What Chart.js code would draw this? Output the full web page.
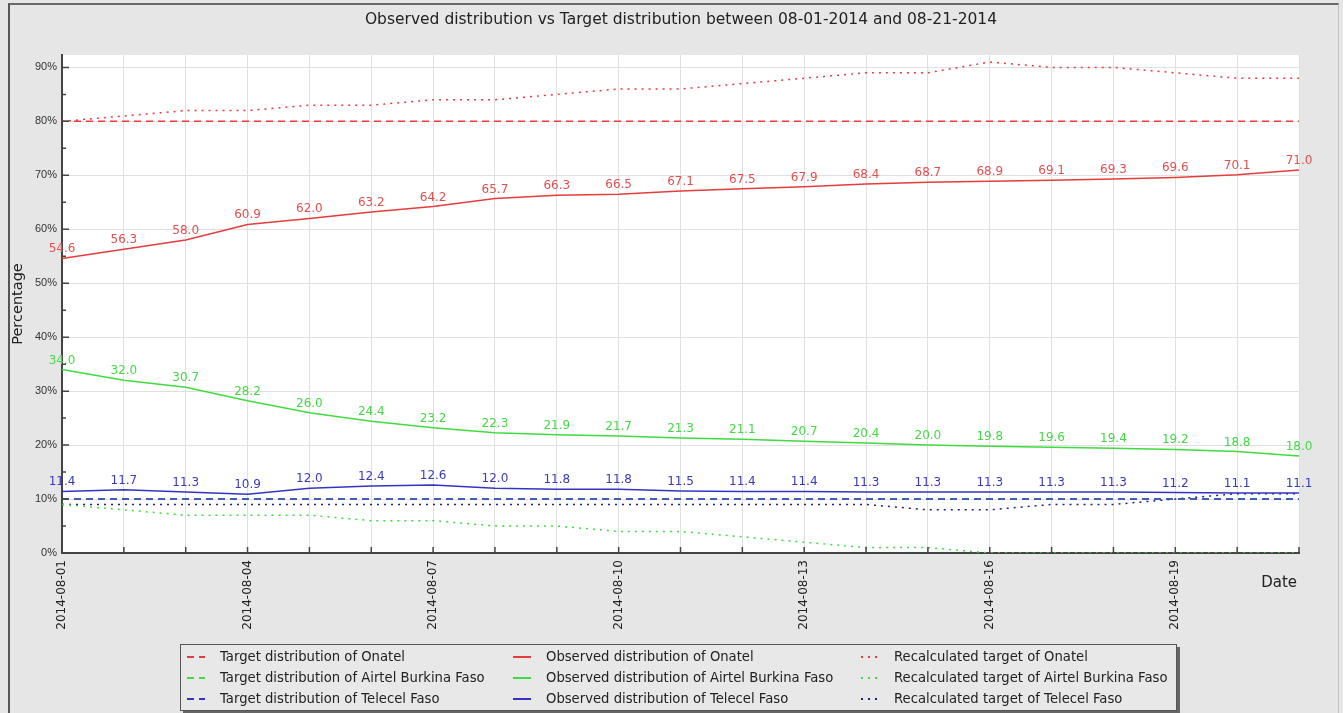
<!DOCTYPE html>
<html>
<head>
<meta charset="utf-8">
<script src="https://cdn.jsdelivr.net/npm/chart.js@4.4.1/dist/chart.umd.min.js"></script>
<style>
  html, body { margin: 0; padding: 0; background: #e6e6e6; }
  #wrap { position: relative; width: 1343px; height: 713px; overflow: hidden; }
  #frame { position: absolute; left: 8px; top: 3px; right: 4px; bottom: -4px;
           border-left: 2px solid #555; border-top: 2px solid #6a6a6a; border-right: 1px solid #c4c4c4; }
  #chart { position: absolute; left: 0; top: 0; }
  #title { position: absolute; left: 0; top: 10px; width: 1362px; text-align: center;
           font: 15.5px "DejaVu Sans", sans-serif; color: #222; white-space: nowrap; }
  #legend { position: absolute; left: 180px; top: 644px; width: 995px; height: 64px;
            background: #e8e8e8; border: 1px solid #555; box-shadow: 3px 3px 0 #666;
            display: grid; grid-template-columns: 326px 348px 321px; grid-auto-rows: 21px;
            padding-top: 1px; font: 13.2px "DejaVu Sans", sans-serif; color: #222; }
  #legend .item { display: flex; align-items: center; padding-left: 6px; white-space: nowrap; }
  #legend svg { margin-right: 15px; flex: none; }
</style>
</head>
<body>
<div id="wrap">
  <div id="frame"></div>
  <canvas id="chart" width="1343" height="713"></canvas>
  <div id="title">Observed distribution vs Target distribution between 08-01-2014 and 08-21-2014</div>
  <div id="legend"></div>
</div>
<script>
// Datos
const dates = ['2014-08-01','2014-08-02','2014-08-03','2014-08-04','2014-08-05','2014-08-06','2014-08-07',
  '2014-08-08','2014-08-09','2014-08-10','2014-08-11','2014-08-12','2014-08-13','2014-08-14',
  '2014-08-15','2014-08-16','2014-08-17','2014-08-18','2014-08-19','2014-08-20','2014-08-21'];

const targetOnatel  = [80,80,80,80,80,80,80,80,80,80,80,80,80,80,80,80,80,80,80,80,80];
const targetAirtel  = [10,10,10,10,10,10,10,10,10,10,10,10,10,10,10,10,10,10,10,10,10];
const targetTelecel = [10,10,10,10,10,10,10,10,10,10,10,10,10,10,10,10,10,10,10,10,10];

const observedOnatel  = [54.6,56.3,58.0,60.9,62.0,63.2,64.2,65.7,66.3,66.5,67.1,67.5,67.9,68.4,68.7,68.9,69.1,69.3,69.6,70.1,71.0];
const observedAirtel  = [34.0,32.0,30.7,28.2,26.0,24.4,23.2,22.3,21.9,21.7,21.3,21.1,20.7,20.4,20.0,19.8,19.6,19.4,19.2,18.8,18.0];
const observedTelecel = [11.4,11.7,11.3,10.9,12.0,12.4,12.6,12.0,11.8,11.8,11.5,11.4,11.4,11.3,11.3,11.3,11.3,11.3,11.2,11.1,11.1];

const recalcOnatel  = [80,81,82,82,83,83,84,84,85,86,86,87,88,89,89,91,90,90,89,88,88];
const recalcAirtel  = [9,8,7,7,7,6,6,5,5,4,4,3,2,1,1,0,0,0,0,0,0];
const recalcTelecel = [9,9,9,9,9,9,9,9,9,9,9,9,9,9,8,8,9,9,10,11,11];

const yTicks = [0,10,20,30,40,50,60,70,80,90];

// Colores
const colors = {
    red: '#e63c3c',
    green: '#3fdc3f',
    blue: '#3434c4',
    redText: '#e0504f',
    greenText: '#45d845',
    blueText: '#3a3ab8',
    grid: '#e0e0e0',
    axis: '#444',
    text: '#222'
};

const DASH = [7, 5];
const DOT = [2, 5];
const FONT = '"DejaVu Sans", sans-serif';

const mkSet = (label, data, color, dash, values, textColor, order = 0) => ({
    label, data, order,
    borderColor: color,
    backgroundColor: color,
    borderDash: dash,
    borderWidth: 1.5,
    pointRadius: 0,
    tension: 0,
    fill: false,
    showValues: values,
    valueColor: textColor
});

const datasets = [
    mkSet('Target distribution of Onatel', targetOnatel, colors.red, DASH, false),
    mkSet('Observed distribution of Onatel', observedOnatel, colors.red, [], true, colors.redText),
    mkSet('Recalculated target of Onatel', recalcOnatel, colors.red, DOT, false),
    mkSet('Target distribution of Airtel Burkina Faso', targetAirtel, colors.green, DASH, false),
    mkSet('Observed distribution of Airtel Burkina Faso', observedAirtel, colors.green, [], true, colors.greenText),
    mkSet('Recalculated target of Airtel Burkina Faso', recalcAirtel, colors.green, DOT, false),
    mkSet('Target distribution of Telecel Faso', targetTelecel, colors.blue, DASH, false, undefined, -1),
    mkSet('Observed distribution of Telecel Faso', observedTelecel, colors.blue, [], true, colors.blueText),
    mkSet('Recalculated target of Telecel Faso', recalcTelecel, '#1f1f8a', DOT, false)
];

// Fondo blanco del área de trazado
const plotBackground = {
    id: 'plotBackground',
    beforeDraw(chart) {
        const { ctx, chartArea: a } = chart;
        ctx.save();
        ctx.fillStyle = '#ffffff';
        ctx.fillRect(a.left, a.top, a.right - a.left, a.bottom - a.top);
        ctx.restore();
    }
};

// Marcas interiores, etiquetas de fecha verticales y título "Date"
const axisExtras = {
    id: 'axisExtras',
    afterDraw(chart) {
        const { ctx, chartArea: a, scales: { x, y } } = chart;
        ctx.save();
        ctx.strokeStyle = colors.axis;
        ctx.lineWidth = 1.5;
        ctx.beginPath();
        for (let v = 0; v <= 90; v += 5) {
            const py = y.getPixelForValue(v);
            ctx.moveTo(a.left, py);
            ctx.lineTo(a.left + (v % 10 === 0 ? 7 : 4), py);
        }
        dates.forEach((d, i) => {
            const px = x.getPixelForValue(i);
            ctx.moveTo(px, a.bottom);
            ctx.lineTo(px, a.bottom - 6);
        });
        ctx.stroke();

        ctx.fillStyle = colors.text;
        ctx.font = '12px ' + FONT;
        ctx.textAlign = 'right';
        ctx.textBaseline = 'middle';
        dates.forEach((d, i) => {
            if (i % 3 !== 0) return;
            const px = x.getPixelForValue(i);
            ctx.save();
            ctx.translate(px, a.bottom + 7);
            ctx.rotate(-Math.PI / 2);
            ctx.fillText(d, 0, 0);
            ctx.restore();
        });

        ctx.font = '15px ' + FONT;
        ctx.textAlign = 'right';
        ctx.fillText('Date', a.right - 2, a.bottom + 30);
        ctx.restore();
    }
};

// Valores sobre los puntos de las series observadas
const valueLabels = {
    id: 'valueLabels',
    afterDatasetsDraw(chart) {
        const { ctx } = chart;
        ctx.save();
        ctx.font = '12px ' + FONT;
        ctx.textAlign = 'center';
        ctx.textBaseline = 'alphabetic';
        chart.data.datasets.forEach((ds, di) => {
            if (!ds.showValues) return;
            ctx.fillStyle = ds.valueColor;
            chart.getDatasetMeta(di).data.forEach((pt, i) => {
                ctx.fillText(ds.data[i].toFixed(1), pt.x, pt.y - 6);
            });
        });
        ctx.restore();
    }
};

const chart = new Chart(document.getElementById('chart'), {
    type: 'line',
    data: { labels: dates, datasets },
    options: {
        responsive: false,
        animation: false,
        layout: { padding: { left: 10, right: 44, top: 55, bottom: 0 } },
        plugins: {
            legend: { display: false },
            tooltip: { enabled: false },
            title: { display: false }
        },
        scales: {
            x: {
                type: 'category',
                offset: false,
                grid: { color: colors.grid, drawTicks: false },
                border: { color: colors.axis, width: 2 },
                ticks: { display: false },
                afterFit: (scale) => { scale.height = 160; }
            },
            y: {
                min: 0,
                max: 92.3,
                afterBuildTicks: (scale) => { scale.ticks = yTicks.map(v => ({ value: v })); },
                ticks: {
                    callback: (v) => v + '%',
                    color: '#333',
                    font: { family: '"Liberation Sans", Arial, sans-serif', size: 11 },
                    padding: 5
                },
                grid: { color: colors.grid, drawTicks: false },
                border: { color: colors.axis, width: 2 },
                title: {
                    display: true,
                    text: 'Percentage',
                    color: colors.text,
                    font: { family: FONT, size: 14.5 },
                    padding: { top: 0, bottom: 0 }
                },
                afterFit: (scale) => { scale.width = 52; }
            }
        }
    },
    plugins: [plotBackground, valueLabels, axisExtras]
});

// Leyenda HTML en 3 columnas
const legendEl = document.getElementById('legend');
chart.data.datasets.forEach(ds => {
    const item = document.createElement('div');
    item.className = 'item';
    const dash = ds.borderDash.length ? ds.borderDash.join(',') : 'none';
    item.innerHTML =
        `<svg width="18" height="6"><line x1="0" y1="3" x2="18" y2="3" stroke="${ds.borderColor}" ` +
        `stroke-width="2" stroke-dasharray="${dash}"/></svg><span>${ds.label}</span>`;
    legendEl.appendChild(item);
});
</script>
</body>
</html>
